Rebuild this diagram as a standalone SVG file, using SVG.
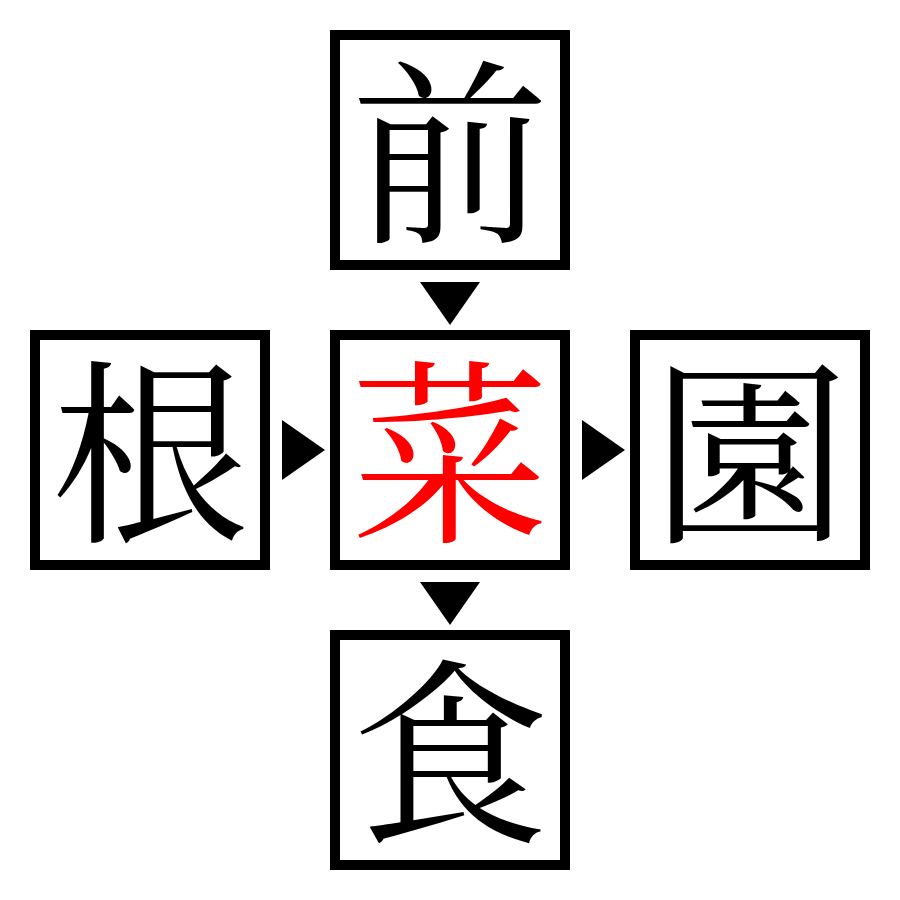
<svg xmlns="http://www.w3.org/2000/svg" width="900" height="900" viewBox="0 0 900 900">
<style>
.box{fill:#fff;stroke:#000;stroke-width:10}
.ch{font-family:"Noto Serif CJK JP","Noto Sans CJK JP",serif;font-size:198px;text-anchor:middle;fill:#000}
.red{fill:#f00}
.arr{fill:#000}
</style>
<rect width="900" height="900" fill="#fff"/>
<g id="top"><rect class="box" x="335" y="35" width="230" height="230"/><text class="ch" x="450" y="227">前</text></g>
<g id="left"><rect class="box" x="35" y="335" width="230" height="230"/><text class="ch" x="150" y="527">根</text></g>
<g id="center"><rect class="box" x="335" y="335" width="230" height="230"/><text class="ch red" x="450" y="527">菜</text></g>
<g id="right"><rect class="box" x="635" y="335" width="230" height="230"/><text class="ch" x="750" y="527">園</text></g>
<g id="bottom"><rect class="box" x="335" y="635" width="230" height="230"/><text class="ch" x="450" y="827">食</text></g>
<g id="connectors">
<polygon class="arr" points="420,282 480,282 450,325"/>
<polygon class="arr" points="282,420 282,480 325,450"/>
<polygon class="arr" points="582,420 582,480 625,450"/>
<polygon class="arr" points="420,582 480,582 450,625"/>
</g>
</svg>
